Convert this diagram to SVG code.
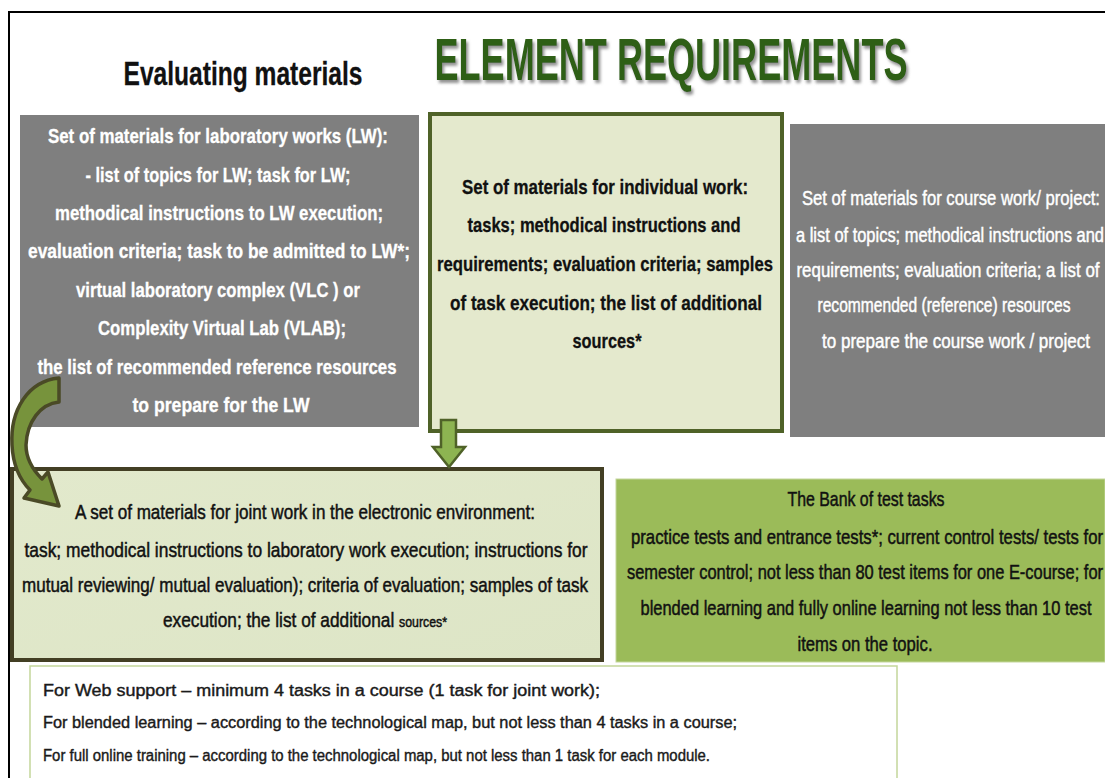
<svg xmlns="http://www.w3.org/2000/svg" width="1105" height="778" viewBox="0 0 1105 778">
<defs>
<style>
.t{font-family:"Liberation Sans Narrow","Liberation Sans",Arial,sans-serif;}
.bw{font-size:21px;font-weight:bold;fill:#ffffff;stroke:#ffffff;stroke-width:0.3px;text-anchor:middle;}
.bk{font-size:21px;font-weight:bold;fill:#111111;stroke:#111111;stroke-width:0.3px;text-anchor:middle;}
.rw{font-size:20px;fill:#ffffff;stroke:#ffffff;stroke-width:0.45px;text-anchor:middle;}
.rk{font-size:21px;fill:#111111;stroke:#111111;stroke-width:0.5px;text-anchor:middle;}
.sm{font-size:16px;fill:#1a1a1a;stroke:#1a1a1a;stroke-width:0.4px;}
.grey{fill:#7f7f7f;}
</style>
<filter id="sh" x="-10%" y="-30%" width="120%" height="170%">
<feGaussianBlur in="SourceAlpha" stdDeviation="1.6"/>
<feOffset dx="2" dy="3" result="b"/>
<feFlood flood-color="#777777" flood-opacity="0.8"/>
<feComposite in2="b" operator="in" result="s"/>
<feMerge><feMergeNode in="s"/><feMergeNode in="SourceGraphic"/></feMerge>
</filter>
<linearGradient id="jg" x1="0" y1="0" x2="1" y2="1">
<stop offset="0" stop-color="#e2e9cc"/>
<stop offset="1" stop-color="#dde5c6"/>
</linearGradient>
</defs>
<rect x="0" y="0" width="1105" height="778" fill="#ffffff"/>
<g id="frame">
<path d="M9 778 L9 12 L1105 12" fill="none" stroke="#000000" stroke-width="2"/>
</g>
<g id="title-left">
<text class="t" x="243" y="85" font-size="34" font-weight="bold" fill="#111" stroke="#111" stroke-width="0.3" text-anchor="middle" textLength="239" lengthAdjust="spacingAndGlyphs">Evaluating materials</text>
</g>
<g id="title-main">
<text class="t" x="671" y="80" font-size="60" font-weight="bold" fill="#2f5f13" text-anchor="middle" textLength="473" lengthAdjust="spacingAndGlyphs" filter="url(#sh)">ELEMENT REQUIREMENTS</text>
</g>
<g id="node-lab">
<rect class="grey" x="20" y="115" width="399" height="312"/>
<text class="t bw" x="218" y="143" textLength="340" lengthAdjust="spacingAndGlyphs">Set of materials for laboratory works (LW):</text>
<text class="t bw" x="218" y="182" textLength="265" lengthAdjust="spacingAndGlyphs">- list of topics for LW; task for LW;</text>
<text class="t bw" x="219" y="220" textLength="328" lengthAdjust="spacingAndGlyphs">methodical instructions to LW execution;</text>
<text class="t bw" x="219" y="258" textLength="382" lengthAdjust="spacingAndGlyphs">evaluation criteria;  task to be admitted to LW*;</text>
<text class="t bw" x="218" y="297" textLength="284" lengthAdjust="spacingAndGlyphs">virtual laboratory complex (VLC ) or</text>
<text class="t bw" x="222" y="335" textLength="248" lengthAdjust="spacingAndGlyphs">Complexity Virtual Lab (VLAB);</text>
<text class="t bw" x="217" y="374" textLength="359" lengthAdjust="spacingAndGlyphs">the list of recommended reference resources</text>
<text class="t bw" x="221" y="412" textLength="177" lengthAdjust="spacingAndGlyphs">to  prepare for the LW</text>
</g>
<g id="node-individual">
<rect x="430" y="114" width="352" height="317" fill="#e4e9cd" stroke="#4f6228" stroke-width="4"/>
<text class="t bk" x="605" y="194" textLength="286" lengthAdjust="spacingAndGlyphs">Set of materials for individual work:</text>
<text class="t bk" x="604" y="232" textLength="273" lengthAdjust="spacingAndGlyphs">tasks; methodical instructions and</text>
<text class="t bk" x="605" y="271" textLength="336" lengthAdjust="spacingAndGlyphs">requirements; evaluation criteria; samples</text>
<text class="t bk" x="606" y="310" textLength="312" lengthAdjust="spacingAndGlyphs">of task execution;  the list of additional</text>
<text class="t bk" x="607" y="348" textLength="69" lengthAdjust="spacingAndGlyphs">sources*</text>
</g>
<g id="node-course">
<rect class="grey" x="790" y="124" width="315" height="313"/>
<text class="t rw" x="951" y="205" textLength="298" lengthAdjust="spacingAndGlyphs">Set of materials for course work/ project:</text>
<text class="t rw" x="950" y="242" textLength="308" lengthAdjust="spacingAndGlyphs">a list of topics;  methodical instructions and</text>
<text class="t rw" x="948" y="277" textLength="303" lengthAdjust="spacingAndGlyphs">requirements; evaluation criteria; a list of</text>
<text class="t rw" x="944" y="312" textLength="253" lengthAdjust="spacingAndGlyphs">recommended (reference) resources</text>
<text class="t rw" x="956" y="348" textLength="268" lengthAdjust="spacingAndGlyphs">to prepare  the course work / project</text>
</g>
<g id="node-joint">
<rect x="12" y="469" width="590" height="191" fill="url(#jg)" stroke="#433f24" stroke-width="4"/>
<text class="t rk" x="305" y="519" textLength="460" lengthAdjust="spacingAndGlyphs">A set of materials for joint work in the electronic environment:</text>
<text class="t rk" x="306" y="557" textLength="563" lengthAdjust="spacingAndGlyphs">task; methodical instructions to laboratory work execution;  instructions for</text>
<text class="t rk" x="305" y="592" textLength="566" lengthAdjust="spacingAndGlyphs">mutual reviewing/ mutual evaluation); criteria of evaluation;  samples of task</text>
<text class="t rk" x="305" y="627" textLength="284" lengthAdjust="spacingAndGlyphs">execution; the list of additional <tspan style="font-size:15px">sources*</tspan></text>
</g>
<g id="node-bank">
<rect x="616" y="479" width="489" height="183" fill="#9bbb59" stroke="#c3d69b" stroke-width="1"/>
<text class="t rk" x="866" y="506" textLength="157" lengthAdjust="spacingAndGlyphs">The Bank of test tasks</text>
<text class="t rk" x="867" y="544" textLength="472" lengthAdjust="spacingAndGlyphs">practice tests and entrance tests*; current control tests/ tests for</text>
<text class="t rk" x="865" y="579" textLength="476" lengthAdjust="spacingAndGlyphs">semester control; not less than 80 test items for  one E-course; for</text>
<text class="t rk" x="866" y="615" textLength="451" lengthAdjust="spacingAndGlyphs">blended learning and fully online learning not less than 10 test</text>
<text class="t rk" x="865" y="651" textLength="135" lengthAdjust="spacingAndGlyphs">items on the topic.</text>
</g>
<g id="node-notes">
<rect x="30" y="666" width="867" height="120" fill="#ffffff" stroke="#c3d69b" stroke-width="1.5"/>
<text class="t sm" x="43" y="696" textLength="557" lengthAdjust="spacingAndGlyphs">For Web support – minimum 4 tasks in a course (1 task for joint work);</text>
<text class="t sm" x="43" y="728" textLength="694" lengthAdjust="spacingAndGlyphs">For blended learning – according to the technological  map, but not less than 4 tasks in a course;</text>
<text class="t sm" x="43" y="761" textLength="667" lengthAdjust="spacingAndGlyphs">For full online training – according to the technological  map, but not less than 1 task for each module.</text>
</g>
<g id="connectors">
<path d="M59 378 C28 381 10 410 12 445 C13 465 20 480 30 490 L24 498 L59 506 L48 472 L42 479 C33 470 26 458 26 445 C27 422 40 404 59 402 Z" fill="#77933c" stroke="#4a4a26" stroke-width="3.5" stroke-linejoin="round"/>
<path d="M441 420 L456 420 L456 447 L465 447 L449 467 L433 447 L441 447 Z" fill="#8db451" stroke="#4f6228" stroke-width="2.5" stroke-linejoin="miter"/>
</g>
</svg>
